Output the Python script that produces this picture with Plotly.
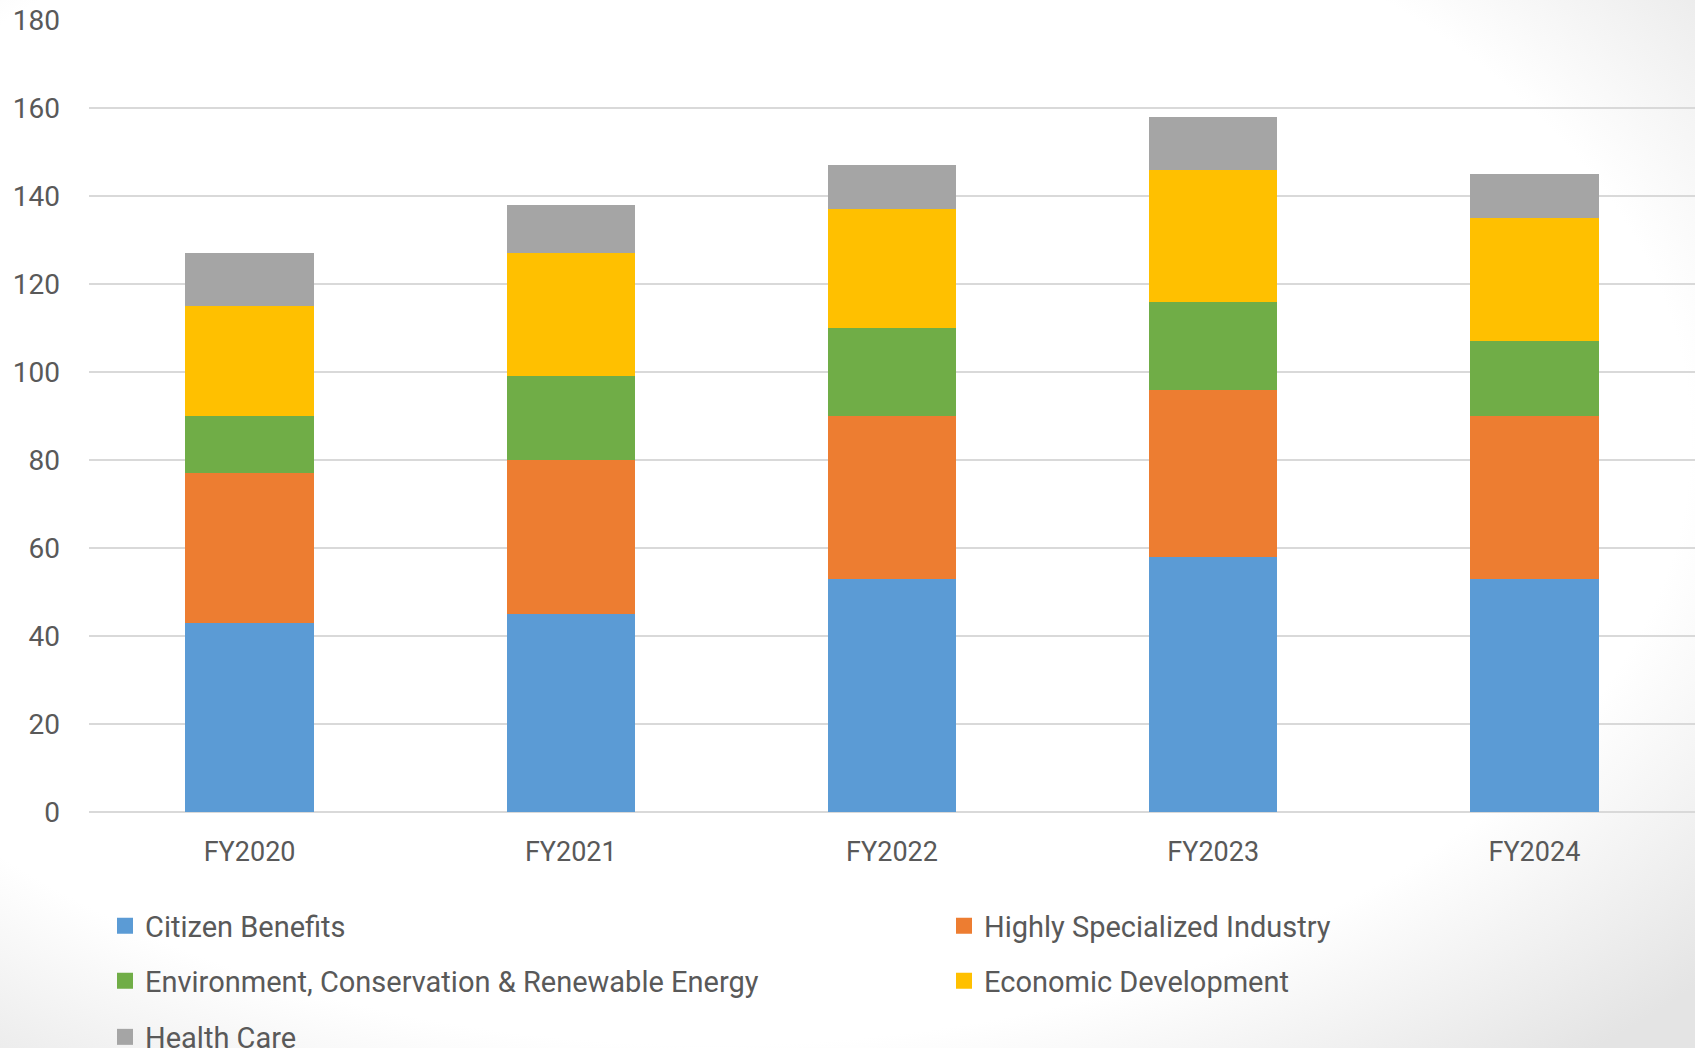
import base64
import plotly.graph_objects as go

categories = ["FY2020", "FY2021", "FY2022", "FY2023", "FY2024"]
citizen_benefits = [43, 45, 53, 58, 53]
highly_specialized = [34, 35, 37, 38, 37]
environment = [13, 19, 20, 20, 17]
economic_dev = [25, 28, 27, 30, 28]
health_care = [12, 11, 10, 12, 10]
y_ticks = [0, 20, 40, 60, 80, 100, 120, 140, 160, 180]

series_names = ["Citizen Benefits", "Highly Specialized Industry",
                "Environment, Conservation & Renewable Energy",
                "Economic Development", "Health Care"]
series_values = [citizen_benefits, highly_specialized, environment, economic_dev, health_care]
series_colors = ["#5b9bd5", "#ed7d31", "#70ad47", "#ffc000", "#a5a5a5"]

W, H = 1695, 1048
L, R, T, B = 89, 0, 20, 236
pw, ph = W - L - R, H - T - B
FONT = "Roboto, 'Open Sans', sans-serif"
TXT = "#595959"

# legend slot (pixel) positions: column x, row centre y
legend_pos = [(105, 926), (944, 926), (105, 981), (944, 981), (105, 1037)]
legend_ids = ["legend", "legend2", "legend3", "legend4", "legend5"]

fig = go.Figure()
for name, vals, color in zip(series_names, series_values, series_colors):
    fig.add_trace(go.Bar(x=categories, y=vals, name=name, marker_color=color,
                         marker_line_width=0, showlegend=False))
for name, color, lg in zip(series_names, series_colors, legend_ids):
    fig.add_trace(go.Scatter(x=[None], y=[None], mode="markers", name=name,
                             marker=dict(symbol="square", size=16, color=color),
                             legend=lg, showlegend=True))

svg = f'''<svg xmlns="http://www.w3.org/2000/svg" width="{W}" height="{H}" viewBox="0 0 {W} {H}" preserveAspectRatio="none">
<defs><radialGradient id="g" cx="0.42" cy="0.42" r="0.78">
<stop offset="0" stop-color="#ffffff"/><stop offset="0.74" stop-color="#ffffff"/>
<stop offset="1" stop-color="#e4e4e4"/></radialGradient></defs>
<rect width="{W}" height="{H}" fill="url(#g)"/></svg>'''
src = "data:image/svg+xml;base64," + base64.b64encode(svg.encode()).decode()


def lx(px):
    return (px - L) / pw


def ly(py):
    return (H - B - py) / ph


legends = {}
for lg, (px, py) in zip(legend_ids, legend_pos):
    legends[lg] = dict(orientation="h", xanchor="left", yanchor="middle",
                       x=lx(px), y=ly(py),
                       font=dict(family=FONT, size=29, color=TXT),
                       bgcolor="rgba(0,0,0,0)", borderwidth=0,
                       itemclick=False, itemdoubleclick=False)

fig.update_layout(
    width=W, height=H,
    margin=dict(l=L, r=R, t=T, b=B, autoexpand=False),
    paper_bgcolor="white", plot_bgcolor="rgba(0,0,0,0)",
    barmode="stack", bargap=0.6,
    font=dict(family=FONT, size=28, color=TXT),
    images=[dict(source=src, xref="paper", yref="paper",
                 x=-L / pw, y=1 + T / ph, sizex=W / pw, sizey=H / ph,
                 xanchor="left", yanchor="top", sizing="stretch", layer="below")],
    xaxis=dict(type="category", showgrid=False, showline=False, ticks="",
               tickfont=dict(size=27, color=TXT), ticklabelstandoff=21),
    yaxis=dict(range=[0, 180], tickvals=y_ticks, showgrid=True, gridcolor="#d9d9d9",
               gridwidth=1.5, zeroline=True, zerolinecolor="#d9d9d9", zerolinewidth=1.5,
               showline=False, ticks="",
               tickfont=dict(size=28, color=TXT), ticklabelstandoff=28),
    **legends,
)

fig.write_html("out.html")
